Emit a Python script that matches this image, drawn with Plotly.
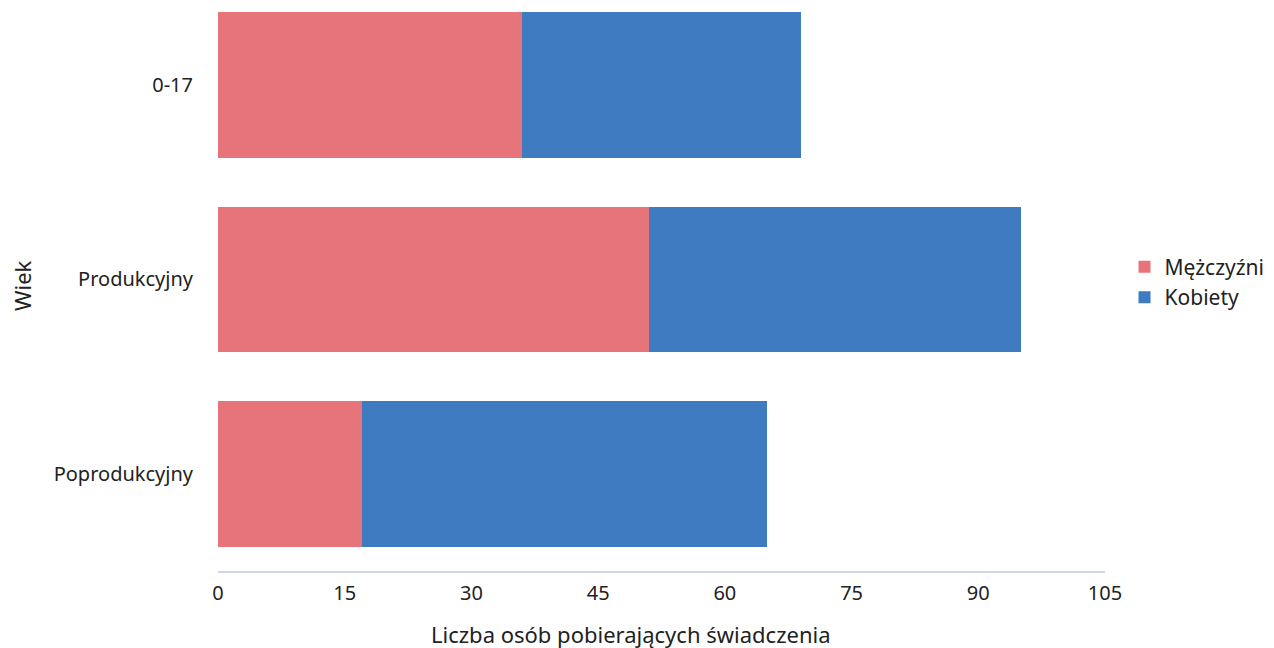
import plotly.graph_objects as go

categories = ["0-17", "Produkcyjny", "Poprodukcyjny"]
men = [36, 51, 17]
women = [33, 44, 48]
x_ticks = [0, 15, 30, 45, 60, 75, 90, 105]

FONT = "Noto Sans"
fig = go.Figure()
fig.add_trace(go.Bar(y=categories, x=men, name="Mężczyźni", orientation="h",
                     marker=dict(color="#E8747B", line=dict(width=0))))
fig.add_trace(go.Bar(y=categories, x=women, name="Kobiety", orientation="h",
                     marker=dict(color="#3E7BC1", line=dict(width=0))))

fig.update_layout(
    width=1266, height=640,
    barmode="stack", bargap=0.25,
    plot_bgcolor="white", paper_bgcolor="white",
    margin=dict(l=210, r=169, t=0, b=77),
    font=dict(family=FONT, size=20, color="#222"),
    legend=dict(x=1.022, y=0.513, xanchor="left", yanchor="middle",
                traceorder="normal", font=dict(size=21), itemwidth=30,
                tracegroupgap=0),
    annotations=[
        dict(text="Liczba osób pobierających świadczenia", x=0.466, y=-0.112,
             xref="paper", yref="paper", showarrow=False,
             font=dict(size=22), xanchor="center", yanchor="middle"),
        dict(text="Wiek", x=-0.221, y=0.508, xref="paper", yref="paper",
             showarrow=False, textangle=-90, font=dict(size=22),
             xanchor="center", yanchor="middle"),
    ],
)
fig.update_xaxes(range=[0, 105], tickvals=x_ticks, showgrid=False, zeroline=False,
                 showline=True, linecolor="#CCD7EE", linewidth=1.5, automargin=False,
                 ticks="", ticklabelstandoff=3, tickfont=dict(size=20))
fig.update_yaxes(categoryorder="array", categoryarray=categories,
                 range=[2.5, -0.397], showgrid=False, zeroline=False, automargin=False,
                 showline=False, ticks="", ticklabelstandoff=24,
                 tickfont=dict(size=20))

fig.write_html("out.html")
